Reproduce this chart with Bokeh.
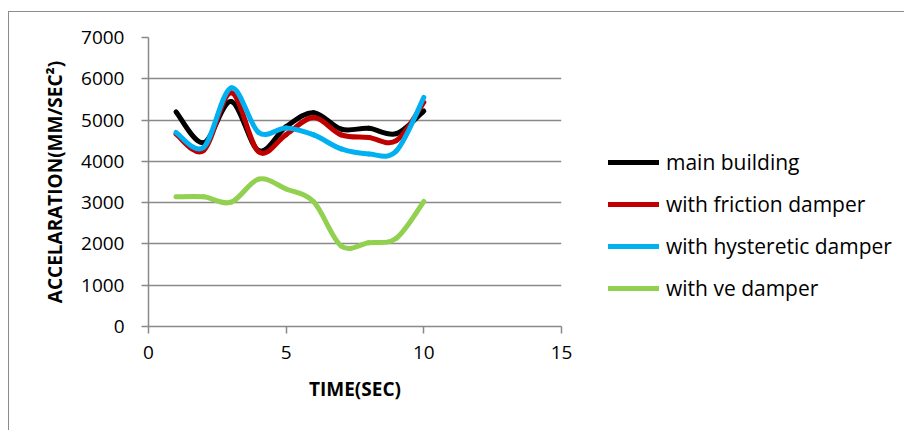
import numpy as np
from bokeh.plotting import figure
from bokeh.models import Legend, LegendItem, FixedTicker
from bokeh.embed import file_html
from bokeh.resources import INLINE

# Peak acceleration (mm/sec^2) against time (sec)
time_sec = [1, 2, 3, 4, 5, 6, 7, 8, 9, 10]
main_building = [5200, 4450, 5450, 4260, 4840, 5180, 4780, 4800, 4670, 5220]
friction_damper = [4660, 4260, 5660, 4230, 4650, 5060, 4640, 4580, 4500, 5430]
hysteretic_damper = [4700, 4340, 5780, 4700, 4810, 4640, 4300, 4180, 4250, 5550]
ve_damper = [3140, 3140, 3010, 3570, 3330, 3020, 1950, 2030, 2140, 3030]

series_names = ["main building", "with friction damper",
                "with hysteretic damper", "with ve damper"]
series_colors = ["#000000", "#C00000", "#00B0F0", "#92D050"]

x_ticks = [0, 5, 10, 15]
y_ticks = [0, 1000, 2000, 3000, 4000, 5000, 6000, 7000]

FONT = "Open Sans"
GRID = "#898989"


def smooth_segments(xs, ys):
    """Cubic Bezier pieces of a Catmull-Rom curve through the points."""
    def pad(a):
        a = np.asarray(a, dtype=float)
        return np.concatenate([[a[0]], a, [a[-1]]])
    xp, yp = pad(xs), pad(ys)
    n = len(xs)
    seg = {}
    for k, p in (("x", xp), ("y", yp)):
        seg[k + "0"] = p[1:n]
        seg[k + "1"] = p[2:n + 1]
        seg["c" + k + "0"] = p[1:n] + (p[2:n + 1] - p[0:n - 1]) / 6.0
        seg["c" + k + "1"] = p[2:n + 1] - (p[3:n + 2] - p[1:n]) / 6.0
    return seg


p = figure(frame_width=413, frame_height=289,
           min_border_left=139, min_border_top=25,
           min_border_right=343, min_border_bottom=104,
           x_range=(0, 15), y_range=(0, 7000),
           output_backend="svg", toolbar_location=None,
           background_fill_color="white", border_fill_color="white")
p.margin = (11, 0, 0, 8)
p.styles = {"border-left": "1px solid #8c8c8c", "border-top": "1px solid #8c8c8c"}
p.outline_line_color = None

p.xgrid.grid_line_color = None
p.ygrid.grid_line_color = GRID
p.ygrid.grid_line_width = 1.5

p.xaxis.ticker = FixedTicker(ticks=x_ticks)
p.yaxis.ticker = FixedTicker(ticks=y_ticks)
for ax in (p.xaxis, p.yaxis):
    ax.axis_line_color = GRID
    ax.axis_line_width = 1.5
    ax.major_tick_line_color = GRID
    ax.major_tick_line_width = 1.5
    ax.major_tick_in = 0
    ax.major_tick_out = 7
    ax.minor_tick_line_color = None
    ax.major_label_text_font = FONT
    ax.major_label_text_font_size = "19px"
    ax.major_label_text_color = "#000000"
    ax.axis_label_text_font = FONT
    ax.axis_label_text_font_size = "19px"
    ax.axis_label_text_font_style = "bold"
    ax.axis_label_text_color = "#000000"

p.xaxis.axis_label = "TIME(SEC)"
p.yaxis.axis_label = "ACCELARATION(MM/SEC\u00b2)"
p.xaxis.major_label_standoff = 12
p.xaxis.axis_label_standoff = 14
p.yaxis.major_label_standoff = 17
p.yaxis.axis_label_standoff = 10

items = []
for name, color, values in zip(series_names, series_colors,
                               [main_building, friction_damper,
                                hysteretic_damper, ve_damper]):
    seg = smooth_segments(time_sec, values)
    p.bezier(x0=seg["x0"], y0=seg["y0"], x1=seg["x1"], y1=seg["y1"],
             cx0=seg["cx0"], cy0=seg["cy0"], cx1=seg["cx1"], cy1=seg["cy1"],
             line_color=color, line_width=5, line_cap="round")
    # legend key: a line style only, it has no visible data of its own
    key = p.line(x=[float("nan")], y=[float("nan")],
                 line_color=color, line_width=5, line_cap="round")
    items.append(LegendItem(label=name, renderers=[key]))

legend = Legend(items=items, location=(47, 24), padding=0, margin=0,
                border_line_color=None, background_fill_alpha=0,
                glyph_width=51, glyph_height=20, label_standoff=7, spacing=14,
                label_text_font=FONT, label_text_font_size="21px",
                label_text_color="#000000")
p.add_layout(legend, "right")

open("out.html", "w").write(file_html(p, INLINE))
